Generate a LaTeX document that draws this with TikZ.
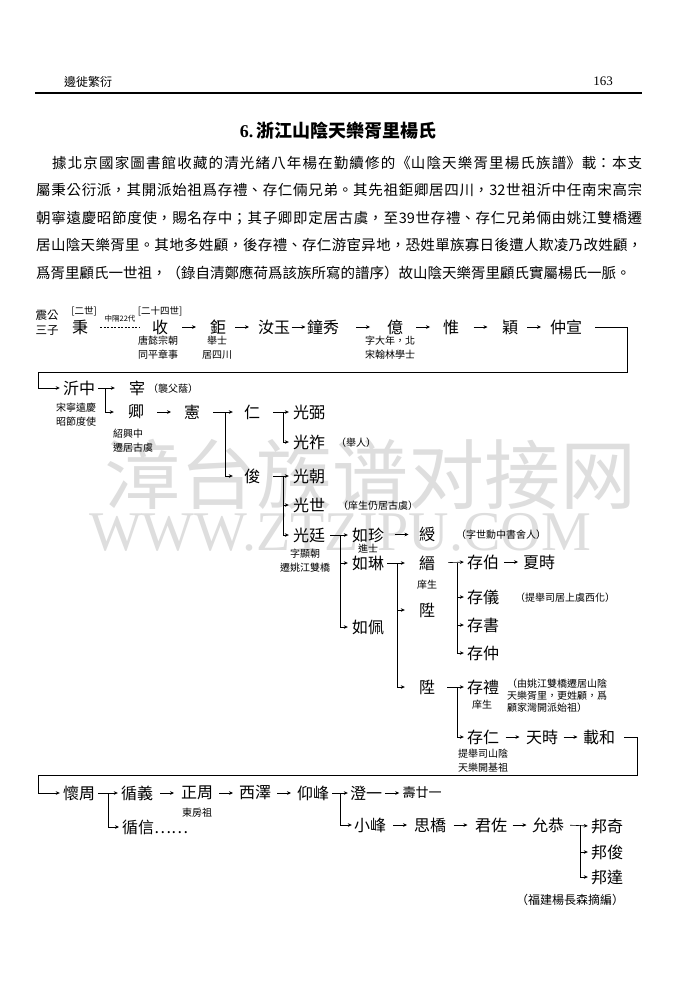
\documentclass[tikz,border=0pt]{standalone}
\usepackage{fontspec}
\setmainfont{Noto Sans CJK TC}
\newfontfamily\wmfont{Noto Sans CJK SC}
\newfontfamily\latinfont{Liberation Serif}
\usetikzlibrary{positioning,arrows.meta,calc}

\XeTeXlinebreaklocale "zh"
\XeTeXlinebreakskip=0pt plus 2pt

\tikzset{
    person/.style={font=\fontsize{16}{16}\selectfont, inner sep=1pt},
    note/.style={font=\fontsize{10}{14}\selectfont, align=center, inner sep=1pt},
    arr/.style={-{Stealth[length=4pt,width=3.6pt]}, line width=0.6pt},
    wrap/.style={line width=0.9pt}
}
\newcommand{\descend}[2]{\draw[arr] ($(#1.east)!.5!(#2.west)$) +(-7,0) -- +(7,0);}

\begin{document}
\begin{tikzpicture}[x=1pt,y=-1pt]
    \useasboundingbox (0,0) rectangle (675,1000);
    \fill[white] (0,0) rectangle (675,1000);

    % Wasserzeichen
    \node[font=\wmfont\fontsize{76}{76}\selectfont, text=black!13] (wmcn) at (370,474) {漳台族谱对接网};
    \node[font=\latinfont\fontsize{56}{56}\selectfont, text=black!13] (wmurl) at (340,532) {WWW.ZTZIPU.COM};

    % Kopfzeile
    \node[font=\fontsize{12}{12}\selectfont] (runhead) at (88,82) {邊徙繁衍};
    \node[font=\latinfont\fontsize{13}{13}\selectfont] (pageno) at (603,81) {163};
    \draw[line width=1.3pt] (35,93) -- (642,93);

    \node[font=\bfseries\fontsize{18}{18}\selectfont] (title) at (338,131) {{\latinfont 6.}\,浙江山陰天樂胥里楊氏};

    \node[anchor=north west, inner sep=0pt, text width=606pt, align=justify,
        font=\fontsize{14.5}{27.5}\selectfont] (intro) at (36,156) {\parfillskip=0pt
        \hspace*{16pt}據北京國家圖書館收藏的清光緒八年楊在勤續修的《山陰天樂胥里楊氏族譜》載：本支\linebreak
        屬秉公衍派，其開派始祖爲存禮、存仁倆兄弟。其先祖鉅卿居四川，32世祖沂中任南宋高宗\linebreak
        朝寧遠慶昭節度使，賜名存中；其子卿即定居古虞，至39世存禮、存仁兄弟倆由姚江雙橋遷\linebreak
        居山陰天樂胥里。其地多姓顧，後存禮、存仁游宦异地，恐姓單族寡日後遭人欺凌乃改姓顧，\linebreak
        爲胥里顧氏一世祖，（錄自清鄭應荷爲該族所寫的譜序）故山陰天樂胥里顧氏實屬楊氏一脈。};

    % Erste Reihe
    \node[note, font=\fontsize{11.5}{15}\selectfont] (zhengong) at (47,323) {震公\\三子};
    \node[note, font=\fontsize{9.5}{10}\selectfont] (gen2) at (84,311) {[二世]};
    \node[person] (bing) at (80,327) {秉};
    \node[note, font=\fontsize{7.5}{8}\selectfont] (gap22) at (120,319) {中隔22代};
    \node[note, font=\fontsize{9.5}{10}\selectfont] (gen24) at (160,311) {[二十四世]};
    \node[person] (shou) at (160,327) {收};
    \node[note] (shounote) at (158,348) {唐懿宗朝\\同平章事};
    \node[person] (ju) at (218,327) {鉅};
    \node[note] (junote) at (217,348) {舉士\\居四川};
    \node[person] (ruyu) at (274,327) {汝玉};
    \node[person] (zhongxiu) at (323,327) {鐘秀};
    \node[person] (yi) at (395,327) {億};
    \node[note] (yinote) at (390,348) {字大年，北\\宋翰林學士};
    \node[person] (wei) at (451,327) {惟};
    \node[person] (ying) at (510,327) {穎};
    \node[person] (zhongxuan) at (566,327) {仲宣};

    \draw[line width=0.6pt, dash pattern=on 2pt off 1.5pt, shorten <=11pt, shorten >=11pt] (bing) -- (shou);
    \descend{shou}{ju}
    \descend{ju}{ruyu}
    \descend{ruyu}{zhongxiu}
    \descend{zhongxiu}{yi}
    \descend{yi}{wei}
    \descend{wei}{ying}
    \descend{ying}{zhongxuan}

    % Zweite Reihe
    \node[person] (yizhong) at (79,388) {沂中};
    \node[note] (yizhongnote) at (76,415) {宋寧遠慶\\昭節度使};
    \node[person] (zai) at (137,388) {宰};
    \node[note] (zainote) at (173,389) {（襲父蔭）};
    \node[person] (qing) at (136,412) {卿};
    \node[note, align=left, anchor=west] (qingnote) at (112,441) {紹興中\\遷居古虞};
    \node[person] (xian) at (192,412) {憲};
    \node[person] (ren) at (252,412) {仁};
    \node[person] (jun) at (252,476) {俊};
    \node[person] (guangbi) at (309,412) {光弼};
    \node[person] (guangzuo) at (309,442) {光祚};
    \node[note] (guangzuonote) at (356,443) {（舉人）};
    \node[person] (guangchao) at (309,476) {光朝};
    \node[person] (guangshi) at (309,505) {光世};
    \node[note] (guangshinote) at (378,506) {（庠生仍居古虞）};
    \node[person] (guangting) at (309,535) {光廷};
    \node[note] (guangtingnote) at (305,561) {字顯朝\\遷姚江雙橋};
    \node[person] (ruzhen) at (368,535) {如珍};
    \node[note] (ruzhennote) at (368,549) {進士};
    \node[person] (rulin) at (368,563) {如琳};
    \node[person] (rupei) at (368,627) {如佩};
    \node[person] (shou2) at (427,534) {綬};
    \node[note] (shou2note) at (501,535) {（字世勳中書舍人）};
    \node[person] (jin) at (427,563) {縉};
    \node[note] (jinnote) at (427,585) {庠生};
    \node[person] (sheng) at (427,610) {陞};
    \node[person] (sheng2) at (427,687) {陞};
    \node[person] (cunbo) at (483,562) {存伯};
    \node[person] (xiashi) at (539,562) {夏時};
    \node[person] (cunyi) at (483,597) {存儀};
    \node[note] (cunyinote) at (565,598) {（提舉司居上虞西化）};
    \node[person] (cunshu) at (483,625) {存書};
    \node[person] (cunzhong) at (483,653) {存仲};
    \node[person] (cunli) at (483,687) {存禮};
    \node[note] (cunlinote) at (482,705) {庠生};
    \node[note, align=left, anchor=north west, font=\fontsize{10}{12}\selectfont] (cunlitext) at (506,678)
        {（由姚江雙橋遷居山陰\\天樂胥里，更姓顧，爲\\顧家灣開派始祖）};
    \node[person] (cunren) at (483,737) {存仁};
    \node[note] (cunrennote) at (483,761) {提舉司山陰\\天樂開基祖};
    \node[person] (tianshi) at (542,737) {天時};
    \node[person] (zaihe) at (599,737) {載和};

    % Umbruch der ersten Reihe
    \draw[arr, line width=0.8pt, shorten >=2pt] (zhongxuan.east) ++(12,0) -| (627,372) -- (38,372) |- (yizhong.west);

    % Pfeile zweite Reihe
    \draw[arr, shorten <=2pt, shorten >=13pt] (yizhong.east) -- (zai.west);
    \draw[arr, shorten >=13pt] (yizhong.east) ++(9,0) |- (qing.west);
    \descend{qing}{xian}
    \draw[arr, shorten <=12pt, shorten >=10pt] (xian.east) -- (ren.west);
    \draw[arr, shorten >=10pt] (xian.east) ++(24,0) |- (jun.west);
    \draw[arr, shorten <=12pt, shorten >=3pt] (ren.east) -- (guangbi.west);
    \draw[arr, shorten >=3pt] (ren.east) ++(22,0) |- (guangzuo.west);
    \draw[arr, shorten <=12pt, shorten >=3pt] (jun.east) -- (guangchao.west);
    \foreach \c in {guangshi,guangting}
        \draw[arr, shorten >=3pt] (jun.east) ++(22,0) |- (\c.west);
    \draw[arr, shorten <=4pt, shorten >=3pt] (guangting.east) -- (ruzhen.west);
    \foreach \c in {rulin,rupei}
        \draw[arr, shorten >=3pt] (guangting.east) ++(14,0) |- (\c.west);
    \descend{ruzhen}{shou2}
    \draw[arr, shorten <=2pt, shorten >=13pt] (rulin.east) -- (jin.west);
    \foreach \c in {sheng,sheng2}
        \draw[arr, shorten >=13pt] (rulin.east) ++(12,0) |- (\c.west);
    \draw[arr, shorten <=12pt, shorten >=2pt] (jin.east) -- (cunbo.west);
    \foreach \c in {cunyi,cunshu,cunzhong}
        \draw[arr, shorten >=2pt] (jin.east) ++(21,0) |- (\c.west);
    \descend{cunbo}{xiashi}
    \draw[arr, shorten <=11pt, shorten >=2pt] (sheng2.east) -- (cunli.west);
    \draw[arr, shorten >=2pt] (sheng2.east) ++(21,0) |- (cunren.west);
    \descend{cunren}{tianshi}
    \descend{tianshi}{zaihe}

    % Vierte Reihe
    \node[person] (huaizhou) at (79,793) {懷周};
    \node[person] (xunyi) at (137,793) {循義};
    \node[person, anchor=west] (xunxin) at (121,827) {循信……};
    \node[person] (zhengzhou) at (197,793) {正周};
    \node[note] (zhengzhounote) at (197,813) {東房祖};
    \node[person] (xize) at (255,793) {西澤};
    \node[person] (yangfeng) at (313,793) {仰峰};
    \node[person] (chengyi) at (366,793) {澄一};
    \node[person, font=\fontsize{13}{13}\selectfont] (shounian) at (422,793) {壽廿一};
    \node[person] (xiaofeng) at (370,825) {小峰};
    \node[person] (siqiao) at (430,825) {思橋};
    \node[person] (junzuo) at (491,825) {君佐};
    \node[person] (yungong) at (548,825) {允恭};
    \node[person] (bangqi) at (607,826) {邦奇};
    \node[person] (bangjun) at (607,852) {邦俊};
    \node[person] (bangda) at (607,877) {邦達};
    \node[note, font=\fontsize{12}{12}\selectfont] (source) at (570,900) {（福建楊長森摘編）};

    % Umbruch der dritten Reihe
    \draw[arr, line width=0.8pt, shorten >=2pt] (zaihe.east) ++(8,0) -| (637,775) -- (38,775) |- (huaizhou.west);

    % Pfeile vierte Reihe
    \draw[arr, shorten <=2pt, shorten >=2pt] (huaizhou.east) -- (xunyi.west);
    \draw[arr, shorten >=2pt] (huaizhou.east) ++(12,0) |- (xunxin.west);
    \descend{xunyi}{zhengzhou}
    \descend{zhengzhou}{xize}
    \descend{xize}{yangfeng}
    \draw[arr, shorten <=2pt, shorten >=1pt] (yangfeng.east) -- (chengyi.west);
    \draw[arr, shorten >=1pt] (yangfeng.east) ++(10,0) |- (xiaofeng.west);
    \descend{chengyi}{shounian}
    \descend{xiaofeng}{siqiao}
    \descend{siqiao}{junzuo}
    \descend{junzuo}{yungong}
    \draw[arr, shorten <=5pt, shorten >=2pt] (yungong.east) -- (bangqi.west);
    \foreach \c in {bangjun,bangda}
        \draw[arr, shorten >=2pt] (yungong.east) ++(15,0) |- (\c.west);
\end{tikzpicture}
\end{document}
